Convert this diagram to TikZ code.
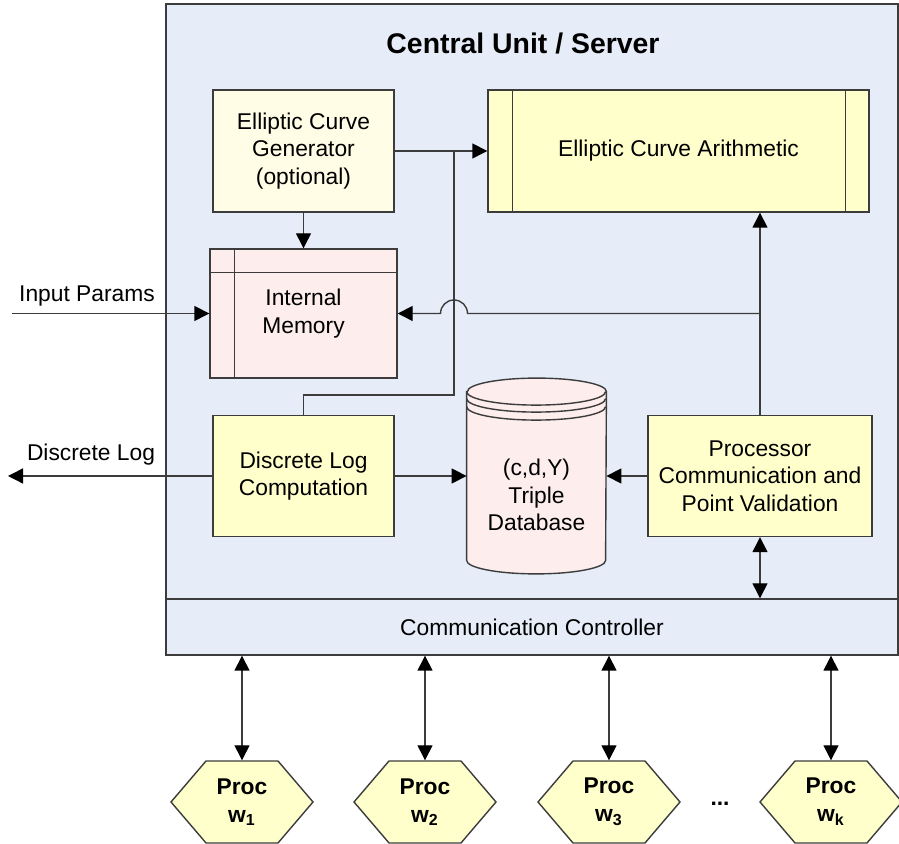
\documentclass[tikz,border=0pt]{standalone}
\usepackage{fontspec}
\setmainfont{Liberation Sans}
\usepackage{xcolor}
\usepackage{tikz}
\usetikzlibrary{positioning,shapes,shapes.symbols,arrows,arrows.meta,calc}

\definecolor{srvblue}{HTML}{E6EDF8}
\definecolor{genyel}{HTML}{FFFDE5}
\definecolor{boxyel}{HTML}{FFFFCC}
\definecolor{mempink}{HTML}{FDEDED}
\definecolor{edge}{HTML}{3C3C3C}

\begin{document}
\begin{tikzpicture}[x=0.5pt, y=0.5pt,
    font=\fontsize{11.4}{13.75}\selectfont,
    >={Triangle[length=7.5pt,width=7.5pt,color=black]},
    every node/.style={align=center, inner sep=0pt},
    line/.style={draw=edge, line width=0.7pt},
    block/.style={line, rectangle, fill=boxyel},
    srvbox/.style={line, rectangle, fill=srvblue},
    memfill/.style={line, fill=mempink},
    proc/.style={line, shape=signal, signal to=east and west, signal pointer angle=99,
        fill=boxyel, minimum width=71pt, minimum height=41pt, font=\fontsize{11.4}{14}\selectfont\bfseries}]

    \useasboundingbox (0,0) rectangle (899,844);

    \node[srvbox, minimum width=366pt, minimum height=325.5pt] (srv) at (532,514.5) {};
    \node[srvbox, minimum width=366pt, minimum height=28pt] (comm) at (532,217) {Communication Controller};
    \node[font=\fontsize{14.2}{17}\selectfont\bfseries] (ttl) at (523,800) {Central Unit / Server};

    \node[block, fill=genyel, minimum width=90.5pt, minimum height=61pt] (gen) at (303.5,693) {Elliptic Curve\\Generator\\(optional)};
    \node[block, minimum width=190.5pt, minimum height=61pt] (arith) at (678.5,693) {Elliptic Curve Arithmetic};
    \draw[line] ([xshift=12.5pt]arith.north west) -- ([xshift=12.5pt]arith.south west);
    \draw[line] ([xshift=-12pt]arith.north east) -- ([xshift=-12pt]arith.south east);

    \node[block, fill=mempink, minimum width=93.5pt, minimum height=64.5pt] (mem) at (303.5,530.5) {Internal\\Memory};
    \draw[line] ([xshift=12.5pt]mem.north west) -- ([xshift=12.5pt]mem.south west);
    \draw[line] ([yshift=-12pt]mem.north west) -- ([yshift=-12pt]mem.north east);

    \node[block, minimum width=90.5pt, minimum height=60.5pt] (dlog) at (303.5,368) {Discrete Log\\Computation};
    \node[block, minimum width=112pt, minimum height=60.5pt] (pcv) at (760,368) {Processor\\Communication and\\Point Validation};

    \node[minimum width=69.5pt, minimum height=97.5pt] (db) at (536.5,368) {};
    \draw[memfill] ([yshift=-6.75pt]db.north west) -- ([yshift=6.75pt]db.south west)
        arc[start angle=180, end angle=360, x radius=69.5, y radius=13.5]
        -- ([yshift=-6.75pt]db.north east)
        arc[start angle=0, end angle=180, x radius=69.5, y radius=13.5] -- cycle;
    \foreach \s in {6.75,10.25,14.25}
        \draw[line] ([yshift=-\s pt]db.north west) arc[start angle=180, end angle=360, x radius=69.5, y radius=13.5];
    \node (dbt) at (536.5,349) {(c,d,Y)\\Triple\\Database};

    \coordinate (jn) at (454,693);
    \coordinate (bend) at (454,449);
    \coordinate (tap) at (pcv.north |- mem.east);
    \coordinate (inp) at (12,530.5);
    \coordinate (dout) at (8,368);

    \draw[line,->] (gen.south) -- (mem.north);
    \draw[line,->] (gen.east) -- (arith.west);
    \draw[line] (dlog.north) |- (bend) -- (jn);
    \draw[line,->] (pcv.north) -- (pcv.north |- arith.south);
    \draw[line,->] (tap) -- ([xshift=6.75pt]jn |- tap)
        arc[start angle=0, end angle=180, radius=13.5] -- (mem.east);
    \draw[line,->] (dlog.east) -- (db.west);
    \draw[line,->] (pcv.west) -- (db.east);
    \draw[line,<->] (pcv.south) -- (pcv.south |- comm.north);

    \draw[line,->] (inp) -- (mem.west);
    \node (inlbl) at (87,548) {Input Params};
    \draw[line,->] (dlog.west) -- (dout);
    \node (outlbl) at (91,389) {Discrete Log};

    \foreach \x/\n [count=\i] in {242/1,425/2,609/3,831/k} {
        \node[proc] (p\i) at (\x,42) {Proc\\w\textsubscript{\n}};
        \draw[line,<->] (comm.south -| p\i.north) -- (p\i.north);
    }
    \node[font=\fontsize{11.4}{14}\selectfont\bfseries] (dots) at (720,40) {...};
\end{tikzpicture}
\end{document}
